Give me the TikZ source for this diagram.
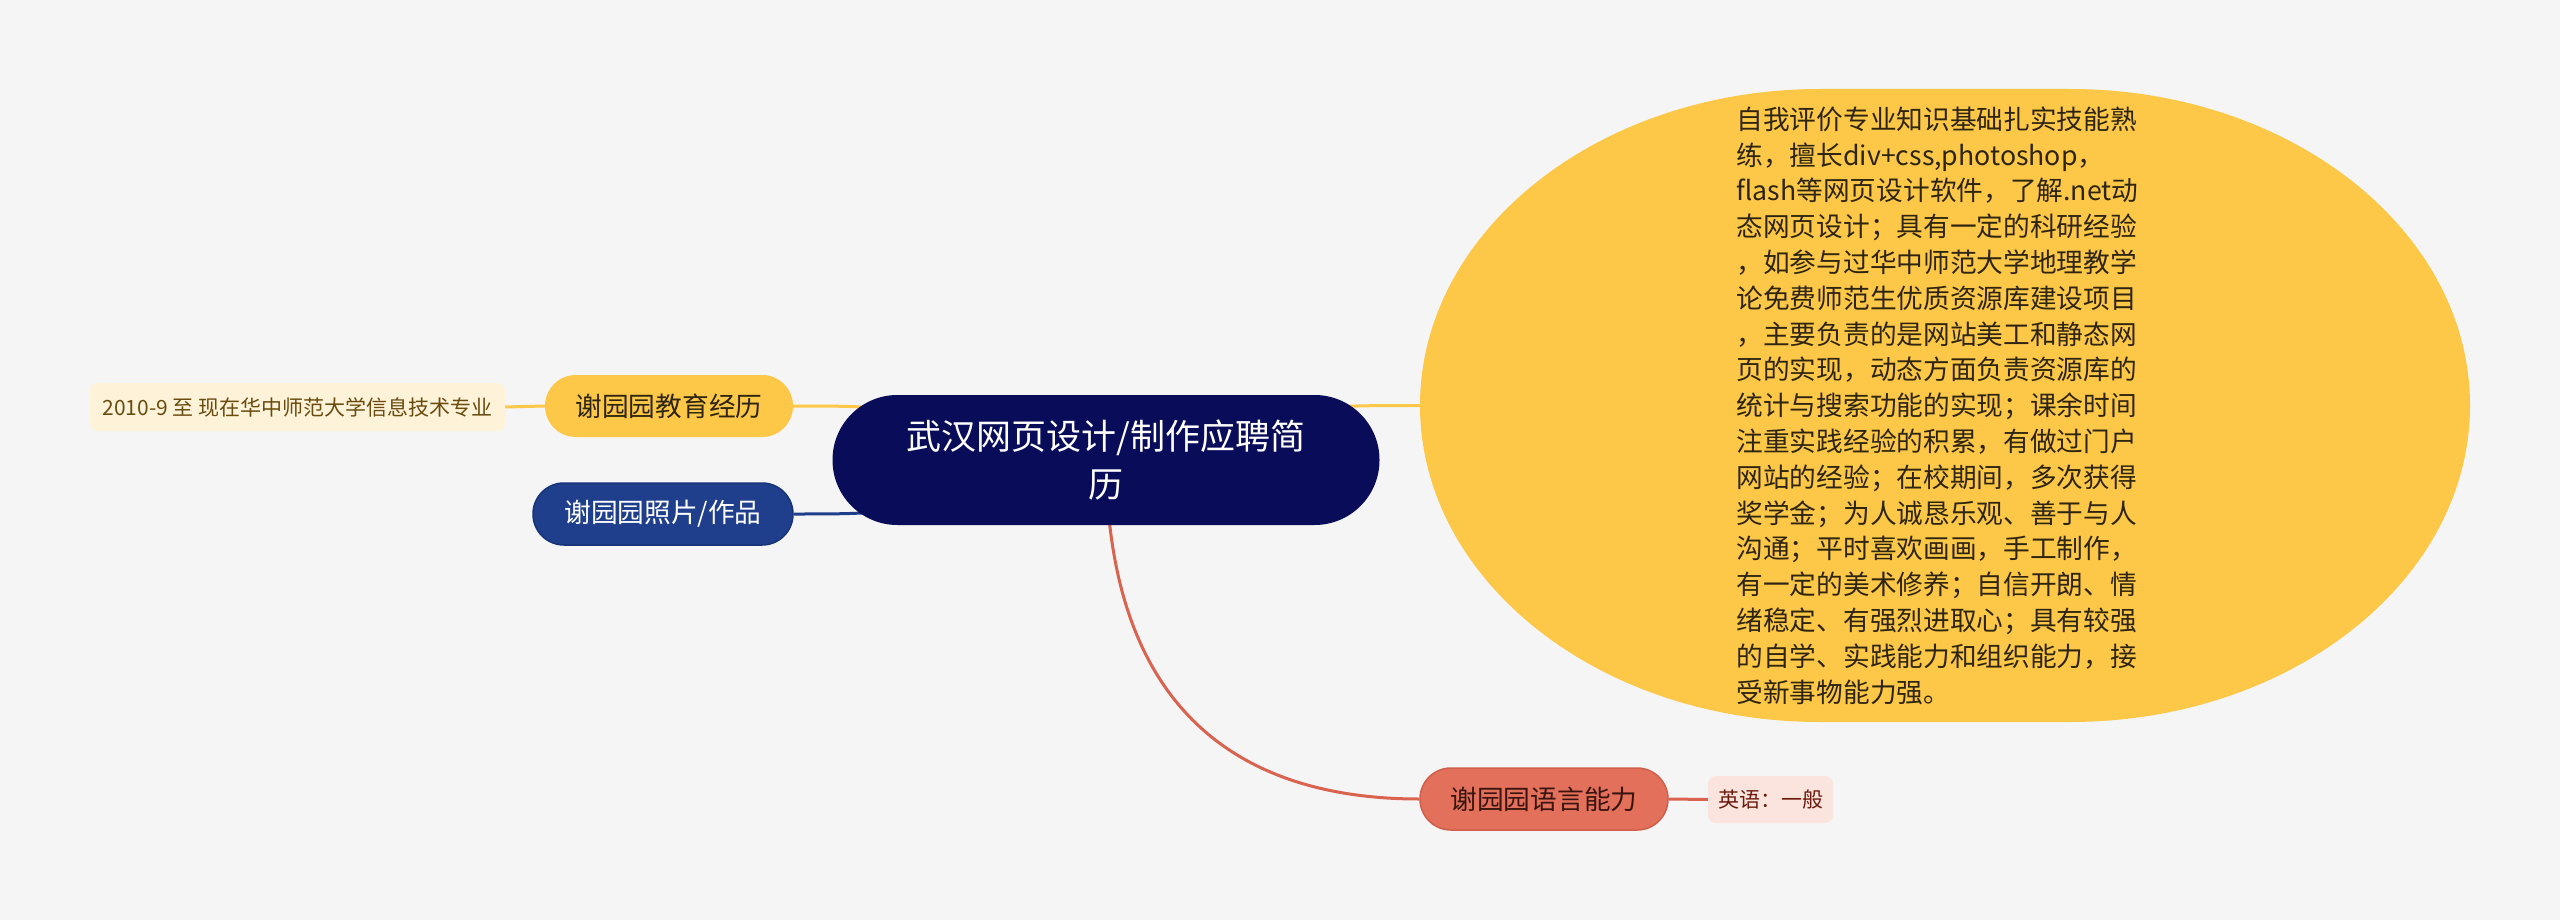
\documentclass[tikz,border=0pt]{standalone}
\usepackage{fontspec}
\setmainfont{Noto Sans CJK SC}
\definecolor{bgc}{HTML}{F5F5F5}
\definecolor{navy}{HTML}{090C59}
\definecolor{yel}{HTML}{FDC748}
\definecolor{bluep}{HTML}{1F3F8C}
\definecolor{bluebd}{HTML}{183478}
\definecolor{coral}{HTML}{E3705A}
\definecolor{coralbd}{HTML}{CF5F4A}
\definecolor{redline}{HTML}{D9634E}
\definecolor{cream}{HTML}{FEF3D9}
\definecolor{pinkb}{HTML}{FBE4DD}
\definecolor{darktext}{HTML}{2E2510}
\definecolor{langtext}{HTML}{3A1510}
\definecolor{brownt}{HTML}{6A4B0E}
\definecolor{engtext}{HTML}{6E1A0E}
\pgfdeclarelayer{back}
\pgfdeclarelayer{edges}
\pgfsetlayers{back,edges,main}
\tikzset{
  pill/.style={rectangle, rounded corners=30.9pt, minimum width=248pt, minimum height=62pt, inner sep=0pt, font=\fontsize{26.7}{32}\selectfont},
  leaf/.style={rectangle, rounded corners=8pt, inner sep=0pt, font=\fontsize{21}{26}\selectfont},
  conn/.style={line width=3pt},
}
\begin{document}
\begin{tikzpicture}[x=1pt,y=-1pt]
\useasboundingbox (0,0) rectangle (2560,920);
\begin{pgfonlayer}{back}
\fill[bgc] (0,0) rectangle (2560,920);
\end{pgfonlayer}

% central
\node[rectangle, rounded corners=64.9pt, minimum width=547pt, minimum height=130pt, inner sep=0pt,
      fill=navy, text=white, align=center, font=\fontsize{35}{48}\selectfont] (root) at (1106,460)
  {武汉网页设计/制作应聘简\\历};

% big yellow evaluation node
\fill[yel] (1820,89) -- (2070,89)
  .. controls (2290.9,89) and (2470,230.7) .. (2470,405.5)
  .. controls (2470,580.3) and (2290.9,722) .. (2070,722)
  -- (1820,722)
  .. controls (1599.1,722) and (1420,580.3) .. (1420,405.5)
  .. controls (1420,230.7) and (1599.1,89) .. (1820,89) -- cycle;
\node[rectangle, minimum width=1034pt, minimum height=633pt, inner sep=0pt, text=darktext,
      text width=401pt, align=left, font=\fontsize{26.7}{35.8}\selectfont] (eval) at (1937,405.5)
  {自我评价专业知识基础扎实技能熟\\
   练，擅长div+css,photoshop，\\
   flash等网页设计软件，了解.net动\\
   态网页设计；具有一定的科研经验\\
   ，如参与过华中师范大学地理教学\\
   论免费师范生优质资源库建设项目\\
   ，主要负责的是网站美工和静态网\\
   页的实现，动态方面负责资源库的\\
   统计与搜索功能的实现；课余时间\\
   注重实践经验的积累，有做过门户\\
   网站的经验；在校期间，多次获得\\
   奖学金；为人诚恳乐观、善于与人\\
   沟通；平时喜欢画画，手工制作，\\
   有一定的美术修养；自信开朗、情\\
   绪稳定、有强烈进取心；具有较强\\
   的自学、实践能力和组织能力，接\\
   受新事物能力强。};

% branches
\node[pill, fill=yel, text=darktext] (edu) at (669,406) {谢园园教育经历};
\node[pill, fill=bluep, draw=bluebd, line width=1.5pt, text=white, minimum width=260pt] (photo) at (663,514) {谢园园照片/作品};
\node[pill, fill=coral, draw=coralbd, line width=1.5pt, text=langtext] (lang) at (1544,799) {谢园园语言能力};

% leaves
\node[leaf, fill=cream, text=brownt, minimum width=415pt, minimum height=48pt] (edud) at (297.5,407)
  {2010-9 至 现在华中师范大学信息技术专业};
\node[leaf, fill=pinkb, text=engtext, minimum width=125pt, minimum height=47pt] (eng) at (1770.5,799.5)
  {英语：一般};

\begin{pgfonlayer}{edges}
\draw[conn, yel] (root.center) .. controls (900,406) .. (edu.east);
\draw[conn, bluep] (root.center) .. controls (900,514) .. (photo.east);
\draw[conn, yel] (root.center) .. controls (1300,405.5) .. (eval.west);
\draw[conn, redline] (root.center) .. controls (1108,720) and (1250,799) .. (lang.west);
\draw[conn, yel] (edud.east) -- (edu.west);
\draw[conn, redline] (lang.east) -- (eng.west);
\end{pgfonlayer}
\end{tikzpicture}
\end{document}
